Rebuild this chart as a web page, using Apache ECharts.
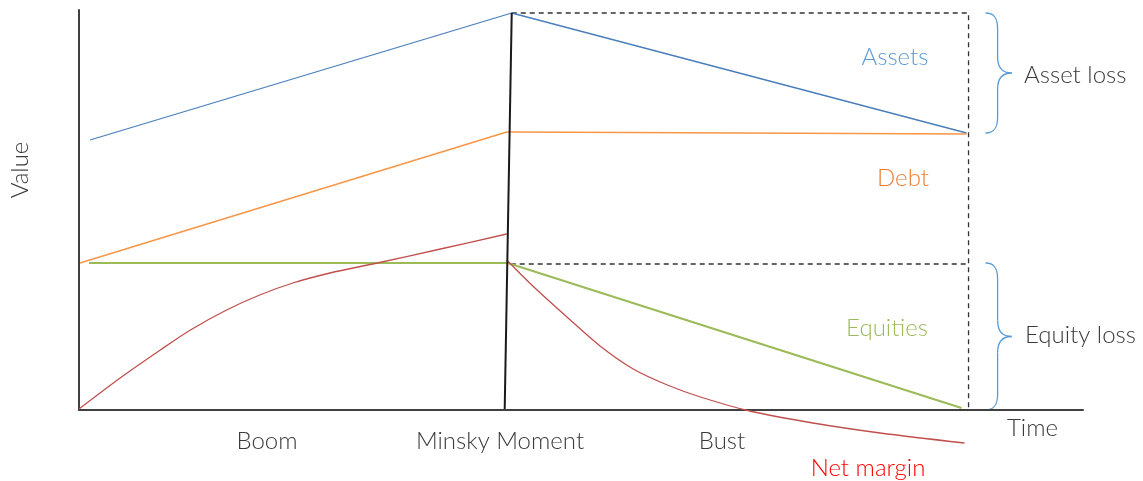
<html>
<head>
    <meta charset="utf-8">
    <script src="https://cdn.jsdelivr.net/npm/echarts@6/dist/echarts.min.js"></script>
</head>
<body style="margin:0;background:#fff;">
<div id="main" style="width:1143px;height:481px;"></div>
<script type="text/javascript">
    // time runs 0..100, value 0..100 (net margin dips below zero in the bust)
    var assets = [[1.1, 67.5], [43.1, 99.25], [88.4, 69.25]];
    var debt = [[0.1, 36.75], [42.6, 69.5], [43.2, 69.5], [88.4, 69]];
    var equities = [[1.0, 36.75], [42.7, 36.75], [87.9, 0.5]];
    var marginBoom = [[0, 0.25], [4.1, 8], [8.1, 15], [11.1, 20], [14.7, 25], [18, 28.75], [21.3, 31.75],
        [25, 34.25], [29.7, 36.75], [36, 40.25], [42.6, 44]];
    var marginBust = [[42.6, 37.5], [45.2, 31], [48.6, 23.25], [51.9, 16], [55.2, 10.25], [58.6, 6.25],
        [61.9, 3.25], [66.8, -0.25], [73.1, -3.25], [79.8, -5.75], [88.2, -8.25]];
    var minsky = [[42.4, 0.25], [43.1, 99.25]];
    var dashTop = [[43.1, 99.25], [88.6, 99.25], [88.6, 0]];
    var dashMid = [[43.0, 36.5], [88.6, 36.5]];
    var assetLoss = [99.25, 69.25];
    var equityLoss = [36.75, 0];

    var font = 'Lato, "Open Sans", sans-serif';

    function lineSeries(name, data, color, width, extra) {
        var s = {
            name: name, type: 'line', data: data, symbol: 'none', clip: false,
            lineStyle: {color: color, width: width}, z: 3
        };
        for (var k in extra) s[k] = extra[k];
        return s;
    }

    var myChart = echarts.init(document.getElementById('main'));
    var option = {
        animation: false,
        grid: {left: 79, right: 60, top: 10, bottom: 71},
        xAxis: {
            type: 'value', min: 0, max: 100,
            axisLine: {lineStyle: {color: '#404040', width: 2}},
            axisTick: {show: false}, axisLabel: {show: false}, splitLine: {show: false}
        },
        yAxis: {
            type: 'value', min: 0, max: 100,
            axisLine: {show: true, lineStyle: {color: '#404040', width: 2}},
            axisTick: {show: false}, axisLabel: {show: false}, splitLine: {show: false}
        },
        series: [
            lineSeries('Assets', assets, '#4a7ebb', 1.3),
            lineSeries('Debt', debt, '#f79646', 1.5),
            lineSeries('Equities', equities, '#9bbb59', 2.2),
            lineSeries('Net margin', marginBoom, '#c0504d', 1.3, {smooth: 0.3}),
            lineSeries('Net margin bust', marginBust, '#c0504d', 1.3, {smooth: 0.3}),
            lineSeries('Minsky', minsky, '#1a1a1a', 2),
            lineSeries('dashTop', dashTop, '#333', 1.3, {lineStyle: {color: '#333', width: 1.3, type: [5, 4]}, z: 2}),
            lineSeries('dashMid', dashMid, '#333', 1.3, {lineStyle: {color: '#333', width: 1.3, type: [5, 4]}, z: 2})
        ]
    };
    myChart.setOption(option);

    // curly brace made of bezier pieces
    function brace(x, y0, y1) {
        var q = 12, w = 26, r = 16, m = (y0 + y1) / 2;
        var st = {stroke: '#5b9bd5', lineWidth: 1.3, fill: null};
        function bz(x1, y1_, cx1, cy1, cx2, cy2, x2, y2) {
            return {type: 'bezierCurve', shape: {x1: x1, y1: y1_, cpx1: cx1, cpy1: cy1, cpx2: cx2, cpy2: cy2, x2: x2, y2: y2}, style: st};
        }
        function ln(x1, y1_, x2, y2) {
            return {type: 'line', shape: {x1: x1, y1: y1_, x2: x2, y2: y2}, style: st};
        }
        return [
            bz(x, y0, x + q * 0.8, y0, x + q, y0 + r * 0.4, x + q, y0 + r),
            ln(x + q, y0 + r, x + q, m - r),
            bz(x + q, m - r, x + q, m - r * 0.3, x + q + (w - q) * 0.4, m, x + w, m),
            bz(x + w, m, x + q + (w - q) * 0.4, m, x + q, m + r * 0.3, x + q, m + r),
            ln(x + q, m + r, x + q, y1 - r),
            bz(x + q, y1 - r, x + q, y1 - r * 0.4, x + q * 0.8, y1, x, y1)
        ];
    }

    var a0 = myChart.convertToPixel('grid', [90.3, assetLoss[0]]);
    var a1 = myChart.convertToPixel('grid', [90.3, assetLoss[1]]);
    var e0 = myChart.convertToPixel('grid', [90.3, equityLoss[0]]);
    var e1 = myChart.convertToPixel('grid', [90.3, equityLoss[1]]);

    function txt(x, y, s, color, align, rot) {
        return {
            type: 'text', x: x, y: y, rotation: rot || 0,
            style: {text: s, fill: color, font: '300 24px ' + font, align: align || 'center', verticalAlign: 'middle'}
        };
    }

    var els = brace(a0[0], a0[1], a1[1]).concat(brace(e0[0], e0[1], e1[1]));
    els = els.concat([
        txt(895, 57, 'Assets', '#5b9bd5'),
        txt(903, 178, 'Debt', '#ed7d31'),
        txt(887, 328, 'Equities', '#9bbb59'),
        txt(1024, 75, 'Asset loss', '#3a3a3a', 'left'),
        txt(1025, 335, 'Equity loss', '#3a3a3a', 'left'),
        txt(1007, 428, 'Time', '#3a3a3a', 'left'),
        txt(267, 441, 'Boom', '#3a3a3a'),
        txt(500, 441, 'Minsky Moment', '#3a3a3a'),
        txt(722, 441, 'Bust', '#3a3a3a'),
        txt(868, 468, 'Net margin', '#ff0000'),
        txt(20, 170, 'Value', '#3a3a3a', 'center', Math.PI / 2)
    ]);
    myChart.setOption({graphic: els});
</script>
</body>
</html>
